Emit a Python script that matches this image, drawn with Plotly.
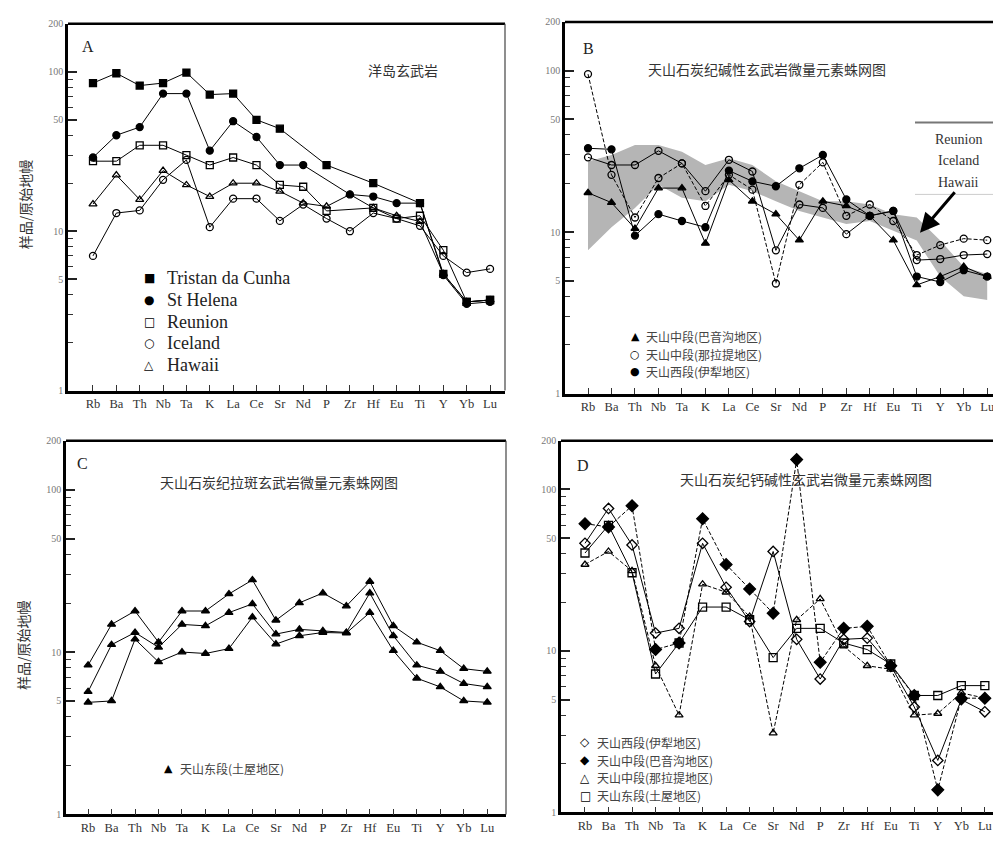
import math
import plotly.graph_objects as go

# ---------------- data ----------------
elements = ["Rb", "Ba", "Th", "Nb", "Ta", "K", "La", "Ce", "Sr", "Nd",
            "P", "Zr", "Hf", "Eu", "Ti", "Y", "Yb", "Lu"]

# Panel A : OIB reference
a_tristan = [85, 98, 82, 85, 99, 72, 73, 50, 44, None, 26, None, 20, None, 15, 5.4, 3.6, 3.7]
a_sthelena = [29, 40, 45, 73, 73, 32, 49, 39, 26, 26, None, 17, 16.5, 15, 15, 5.3, 3.5, 3.6]
a_reunion = [27.5, 27.5, 34.6, 34.6, 30, 26, 29, 26, 19.5, 19, 13.4, None, 14, 12, 12.5, 7.6, 3.6, 3.7]
a_iceland = [7.0, 13, 13.5, 21, 28, 10.6, 16, 16, 11.6, 14.7, 12, 10, 13, 12, 10.8, 7.0, 5.5, 5.8]
a_hawaii = [14.8, 22.5, 15.8, 24, 19.5, 16.5, 20, 20, 17.8, 15, 14.3, 17, 14, 12.5, 11.5, 5.4, 3.6, 3.7]

# Panel B
b_band_high = [27.3, 30, 34.6, 34.6, 31.4, 26, 28.6, 26, 20.6, 17.9, 15.5, 15.5, 14.8, 12.9, 12.3, 8.85, 6.1, 5.5]
b_band_low = [7.7, 10.7, 14.1, 19.6, 16.3, 15.5, 19.6, 17.9, 15.5, 13.5, 12.3, 11.2, 11.7, 10.2, 8.85, 5.3, 4.0, 3.8]
b_open1 = [95, 22.6, 12.3, 21.6, 26.6, 14.5, 22.6, 18.3, 4.8, 19.6, 27, 12.6, 14.8, 11.7, 7.2, 8.3, 9.1, 8.9]
b_open2 = [29, 26, 26, 31.8, 26.6, 17.9, 28, 23.7, 7.7, 14.8, 14.1, 9.7, 12.6, 13.5, 6.7, 6.8, 7.2, 7.3]
b_filled = [33, 32.5, 9.5, 12.9, 11.7, 10.7, 24, 20.6, 19.2, 24.8, 30, 15.9, 12.6, 13.5, 5.3, 4.9, 5.8, 5.3]
b_tri = [17.5, 15.2, 10.5, 18.7, 18.7, 8.5, 21, 15.5, 12.9, 8.9, 15.5, 14.5, 12.6, 8.9, 4.7, 5.3, 6.1, 5.3]

# Panel C
c_s1 = [8.3, 14.8, 17.9, 11.5, 17.9, 17.9, 22.8, 27.8, 15.7, 20.1, 23.1, 19.2, 27.2, 14.5, 11.5, 10.2, 7.9, 7.6]
c_s2 = [5.7, 11.1, 13.2, 10.7, 14.8, 14.5, 17.5, 19.8, 12.9, 13.8, 13.5, 13.2, 23.1, 12.6, 8.3, 7.6, 6.4, 6.1]
c_s3 = [4.9, 5.0, 12.0, 8.7, 10.0, 9.8, 10.5, 16.4, 11.2, 12.6, 13.2, 13.1, 17.5, 10.2, 6.9, 6.1, 5.0, 4.9]

# Panel D
d_diamond_open = [46.4, 76.3, 45.3, 12.9, 13.8, 46.4, 24.8, 15.2, 41.3, 11.8, 6.7, 11.8, 12.0, 8.1, 4.5, 2.1, 5.0, 4.2]
d_diamond_fill = [61.4, 58.6, 79.2, 10.2, 11.2, 65.8, 34.3, 24.2, 17.1, 153, 8.5, 13.8, 14.2, 8.1, 5.3, 1.38, 5.1, 5.1]
d_tri_open = [34.3, 41.3, 31.3, 8.1, 4.0, 25.9, 23.1, 16.3, 3.1, 15.6, 21.0, 10.7, 8.1, 7.7, 4.0, 4.1, 5.5, 5.1]
d_square_open = [40.4, 60, 30.5, 7.2, 11.2, 18.7, 18.7, 15.6, 9.1, 13.8, 13.8, 11.2, 10.2, 8.3, 5.3, 5.3, 6.1, 6.1]

y_ticks = [1, 5, 10, 50, 100, 200]
y_minor = [2, 3, 4, 6, 7, 8, 9, 20, 30, 40, 60, 70, 80, 90]

# ---------------- layout helpers ----------------
W, H = 1001, 842
SERIF = "Liberation Serif, Noto Sans CJK SC, serif"
CJK = "Noto Sans CJK SC, sans-serif"


def px_x(v):
    return v / W


def px_y(v):
    return 1 - v / H


panels = [
    dict(name="A", ax="", x=(60, 497), y=(10, 382), xr=(-1.07, 17.64)),
    dict(name="B", ax="2", x=(557, 998), y=(8, 385), xr=(-0.98, 17.8)),
    dict(name="C", ax="3", x=(58, 498), y=(433, 812), xr=(-0.94, 17.8)),
    dict(name="D", ax="4", x=(553, 998), y=(433, 810), xr=(-1.02, 17.9)),
]

fig = go.Figure()
layout = {}
shapes = []
for p in panels:
    k = p["ax"]
    layout["xaxis" + k] = dict(
        domain=[px_x(p["x"][0]), px_x(p["x"][1])],
        anchor="y" + k,
        type="category",
        range=list(p["xr"]),
        tickmode="array", tickvals=elements, ticktext=elements,
        ticks="inside", ticklen=6, tickwidth=1, tickcolor="#333",
        showline=True, linewidth=2.5, linecolor="black",
        showgrid=False, zeroline=False,
        tickfont=dict(family=SERIF, size=12.5, color="#333"),
    )
    layout["yaxis" + k] = dict(
        domain=[px_y(p["y"][1]), px_y(p["y"][0])],
        anchor="x" + k,
        type="log",
        range=[0, math.log10(200)],
        tickmode="array", tickvals=y_ticks, ticktext=[str(v) for v in y_ticks],
        ticks="inside", ticklen=9, tickwidth=1.5, tickcolor="#222",
        minor=dict(tickmode="array", tickvals=y_minor, ticks="inside",
                   ticklen=5, tickwidth=1, tickcolor="#333", showgrid=False),
        showline=True, linewidth=2.5, linecolor="black",
        showgrid=False, zeroline=False,
        tickfont=dict(family=SERIF, size=10, color="#777"),
    )
    xr = "x" + k + " domain" if k else "x domain"
    yr = "y" + k + " domain" if k else "y domain"
    shapes.append(dict(type="line", xref=xr, yref=yr, x0=0, x1=1, y0=1, y1=1,
                       line=dict(color="black", width=2.5)))
    shapes.append(dict(type="line", xref=xr, yref=yr, x0=1, x1=1, y0=0, y1=1,
                       line=dict(color="#444", width=1.2)))


def add_line(vals, k, symbol, dash="solid", size=7):
    fig.add_trace(go.Scatter(
        x=elements, y=vals, xaxis="x" + k, yaxis="y" + k,
        mode="lines+markers", connectgaps=True,
        line=dict(color="black", width=1, dash=dash),
        marker=dict(symbol=symbol, size=size, color="black",
                    line=dict(color="black", width=1.3)),
        showlegend=False, hoverinfo="skip"))


# Panel A
add_line(a_tristan, "", "square")
add_line(a_sthelena, "", "circle")
add_line(a_reunion, "", "square-open")
add_line(a_iceland, "", "circle-open")
add_line(a_hawaii, "", "triangle-up-open")

# Panel B : OIB band
fig.add_trace(go.Scatter(x=elements, y=b_band_high, xaxis="x2", yaxis="y2",
                         mode="lines", line=dict(width=0, color="#b5b5b5"),
                         showlegend=False, hoverinfo="skip"))
fig.add_trace(go.Scatter(x=elements, y=b_band_low, xaxis="x2", yaxis="y2",
                         mode="lines", line=dict(width=0, color="#b5b5b5"),
                         fill="tonexty", fillcolor="#b5b5b5",
                         showlegend=False, hoverinfo="skip"))
add_line(b_open1, "2", "circle-open", dash="4px,2px")
add_line(b_open2, "2", "circle-open")
add_line(b_filled, "2", "circle")
add_line(b_tri, "2", "triangle-up")

# Panel C
add_line(c_s1, "3", "triangle-up")
add_line(c_s2, "3", "triangle-up")
add_line(c_s3, "3", "triangle-up")

# Panel D
add_line(d_diamond_open, "4", "diamond-open", size=8)
add_line(d_diamond_fill, "4", "diamond", dash="4px,2px", size=9)
add_line(d_tri_open, "4", "triangle-up-open", dash="4px,2px")
add_line(d_square_open, "4", "square-open", size=8)

# ---------------- annotations ----------------
ann = []


def text(x, y, s, size=13, family=SERIF, color="#222", xanchor="center", angle=0):
    ann.append(dict(x=px_x(x), y=px_y(y), xref="paper", yref="paper", text=s,
                    showarrow=False, xanchor=xanchor, yanchor="middle",
                    textangle=angle, borderpad=0,
                    font=dict(family=family, size=size, color=color)))


# panel letters & titles
text(80, 33, "A", size=16)
text(395, 57, "洋岛玄武岩", size=14, family=CJK, color="#333")
text(580, 35, "B", size=16)
text(759, 56, "天山石炭纪碱性玄武岩微量元素蛛网图", size=14, family=CJK, color="#333")
text(74, 456, "C", size=16)
text(271, 475, "天山石炭纪拉斑玄武岩微量元素蛛网图", size=14, family=CJK, color="#333")
text(575, 458, "D", size=16)
text(798, 472, "天山石炭纪钙碱性玄武岩微量元素蛛网图", size=14, family=CJK, color="#333")

# y titles
text(17, 193, "样品/原始地幔", size=14, family=CJK, color="#333", angle=-90)
text(15, 640, "样品/原始地幔", size=14, family=CJK, color="#333", angle=-90)

# legend A
legA = [("■", "Tristan da Cunha"), ("●", "St Helena"), ("□", "Reunion"),
        ("○", "Iceland"), ("△", "Hawaii")]
for i, (sym, lab) in enumerate(legA):
    yy = 268 + i * 22
    text(141, yy, sym, size=12, family="DejaVu Sans", color="black")
    text(158, yy, lab, size=18, family=SERIF, color="#222", xanchor="left")

# legend B (OIB box)
for i, lab in enumerate(["Reunion", "Iceland", "Hawaii"]):
    text(950, 127 + i * 22, lab, size=14, family=SERIF, color="#333")
shapes.append(dict(type="line", xref="paper", yref="paper", x0=px_x(907), x1=px_x(991),
                   y0=px_y(110), y1=px_y(110), line=dict(color="#777", width=2)))
shapes.append(dict(type="line", xref="paper", yref="paper", x0=px_x(907), x1=px_x(991),
                   y0=px_y(183), y1=px_y(183), line=dict(color="#ccc", width=1)))
ann.append(dict(x=px_x(912), y=px_y(222), xref="paper", yref="paper", text="",
                showarrow=True, ax=36, ay=-42, arrowhead=2, arrowsize=1.3,
                arrowwidth=3, arrowcolor="black"))

legB = [("▲", "天山中段(巴音沟地区)"), ("○", "天山中段(那拉提地区)"), ("●", "天山西段(伊犁地区)")]
for i, (sym, lab) in enumerate(legB):
    yy = 327 + i * 18
    text(627, yy, sym, size=11, family="DejaVu Sans", color="black")
    text(637, yy, lab, size=12, family=CJK, color="#444", xanchor="left")

# legend C
text(160, 765, "▲", size=11, family="DejaVu Sans", color="black")
text(171, 765, "天山东段(土屋地区)", size=12, family=CJK, color="#444", xanchor="left")

# legend D
legD = [("◇", "天山西段(伊犁地区)"), ("◆", "天山中段(巴音沟地区)"),
        ("△", "天山中段(那拉提地区)"), ("□", "天山东段(土屋地区)")]
for i, (sym, lab) in enumerate(legD):
    yy = 739 + i * 18
    text(577, yy, sym, size=12, family="DejaVu Sans", color="black")
    text(588, yy, lab, size=12, family=CJK, color="#444", xanchor="left")

fig.update_layout(
    width=W, height=H,
    margin=dict(l=0, r=0, t=0, b=0),
    paper_bgcolor="white", plot_bgcolor="white",
    showlegend=False,
    annotations=ann, shapes=shapes,
    **layout,
)

fig.write_html("out.html")
